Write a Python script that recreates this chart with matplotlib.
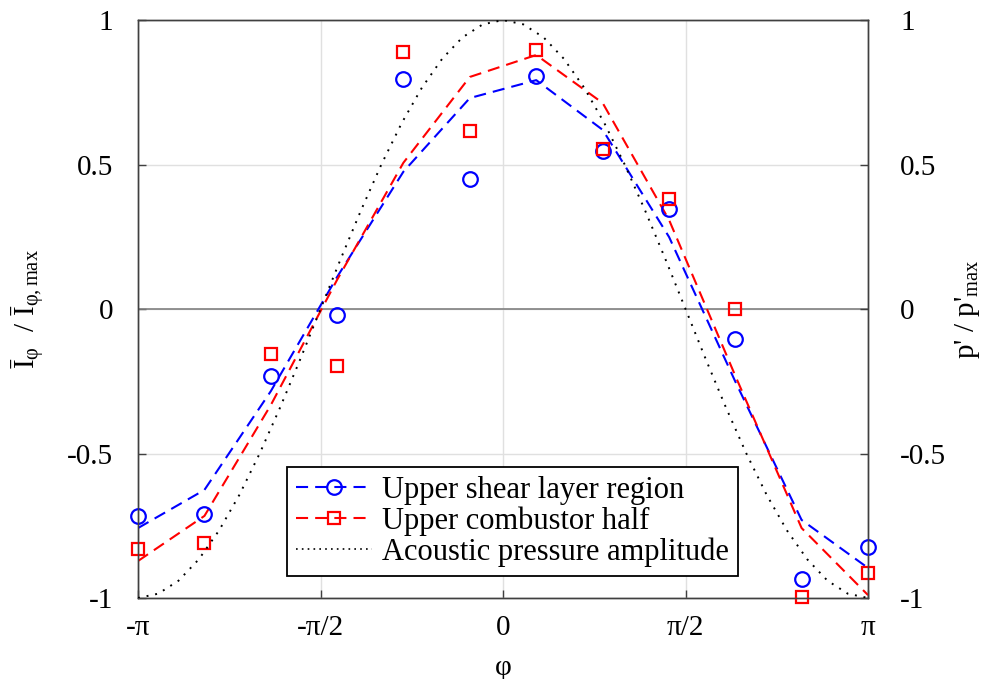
import matplotlib
matplotlib.use("Agg")
import matplotlib.pyplot as plt
import numpy as np

# phase positions of the 12 measurement points (in units of pi)
phase_pi = [-1.0, -0.818, -0.636, -0.455, -0.273, -0.091,
            0.091, 0.273, 0.455, 0.636, 0.818, 1.0]

shear_pts = [-0.716, -0.709, -0.232, -0.021, 0.796, 0.450,
             0.806, 0.547, 0.346, -0.104, -0.934, -0.824]
shear_fit = [-0.758, -0.626, -0.284, 0.11, 0.475, 0.730,
             0.792, 0.62, 0.249, -0.25, -0.730, -0.896]

comb_pts = [-0.830, -0.810, -0.156, -0.197, 0.889, 0.616,
            0.896, 0.554, 0.381, 0.0, -0.997, -0.913]
comb_fit = [-0.872, -0.716, -0.332, 0.10, 0.506, 0.803,
            0.879, 0.713, 0.308, -0.23, -0.758, -0.99]

# acoustic pressure amplitude, read every 10 degrees from -180 to 180
acoustic_deg = list(range(-180, 181, 10))
acoustic_amp = [-1.0, -0.985, -0.940, -0.866, -0.766, -0.643, -0.5, -0.342, -0.174,
                0.0, 0.174, 0.342, 0.5, 0.643, 0.766, 0.866, 0.940, 0.985,
                1.0,
                0.985, 0.940, 0.866, 0.766, 0.643, 0.5, 0.342, 0.174, 0.0,
                -0.174, -0.342, -0.5, -0.643, -0.766, -0.866, -0.940, -0.985, -1.0]

x_ticklabels = ["-π", "-π/2", "0", "π/2", "π"]
y_ticks = [-1, -0.5, 0, 0.5, 1]
y_ticklabels = ["-1", "-0.5", "0", "0.5", "1"]

plt.rcParams["font.family"] = ["Liberation Serif", "DejaVu Serif"]
plt.rcParams["mathtext.fontset"] = "custom"
plt.rcParams["mathtext.rm"] = "Liberation Serif"
plt.rcParams["mathtext.it"] = "Liberation Serif"
plt.rcParams["axes.unicode_minus"] = False

FS = 21
FS_LEG = 22

fig = plt.figure(figsize=(9.9, 6.79), dpi=100)
ax = fig.add_axes([0.1394, 0.1193, 0.7374, 0.8512])
ax2 = ax.twinx()

x = np.array(phase_pi) * np.pi
xa = np.deg2rad(acoustic_deg)

ax.axhline(0, color="#808080", lw=1.2, zorder=1)
dash = (0, (5.8, 3.4))
ax.plot(x, shear_fit, color="blue", lw=1.5, ls=dash, zorder=3)
ax.plot(x, comb_fit, color="red", lw=1.5, ls=dash, zorder=3)
ax.plot(x, shear_pts, ls="none", marker="o", ms=10.5, mfc="none",
        mec="blue", mew=1.6, zorder=4, clip_on=False)
ax.plot(x, comb_pts, ls="none", marker="s", ms=8.5, mfc="none",
        mec="red", mew=1.6, zorder=4, clip_on=False)
ax2.plot(xa, acoustic_amp, color="black", lw=1.4, ls=(0, (1, 3.5)), zorder=3)

ax.set_xlim(-np.pi, np.pi)
ax.set_ylim(-1, 1)
ax2.set_ylim(-1, 1)
ax.set_xticks([-np.pi, -np.pi / 2, 0, np.pi / 2, np.pi])
ax.set_xticklabels(x_ticklabels, fontsize=FS)
ax.set_yticks(y_ticks)
ax.set_yticklabels(y_ticklabels, fontsize=FS)
ax2.set_yticks(y_ticks)
ax2.set_yticklabels(y_ticklabels, fontsize=FS)

ax.grid(True, color="#e0e0e0", lw=1.0)
ax.set_axisbelow(True)
for a in (ax, ax2):
    a.tick_params(direction="in", length=6, width=1.0, color="#404040")
    for s in a.spines.values():
        s.set_color("#404040")
        s.set_linewidth(1.0)
ax.tick_params(axis="x", pad=12)
ax.tick_params(axis="y", pad=18)
ax2.tick_params(axis="y", pad=23)

ax.set_xlabel("φ", fontsize=FS, labelpad=10)
ax.set_ylabel(r"$\mathrm{Ī_{φ}\ \ /\ Ī_{φ,max}}$", fontsize=FS, labelpad=14)
ax2.set_ylabel(r"p' / p'$_{\mathrm{max}}$", fontsize=FS, labelpad=5)

# legend handles mimic line + marker
h1, = ax.plot([], [], color="blue", lw=1.5, ls=dash, marker="o", ms=10.5,
              mfc="none", mec="blue", mew=1.6)
h2, = ax.plot([], [], color="red", lw=1.5, ls=dash, marker="s", ms=8.5,
              mfc="none", mec="red", mew=1.6)
h3, = ax.plot([], [], color="black", lw=1.2, ls=(0, (1, 2.5)))
leg = ax2.legend([h1, h2, h3],
                 ["Upper shear layer region", "Upper combustor half",
                  "Acoustic pressure amplitude"],
                 loc="lower left", bbox_to_anchor=(0.204, 0.038),
                 borderaxespad=0, fontsize=FS_LEG, fancybox=False,
                 framealpha=1, edgecolor="black", handlelength=2.5,
                 labelspacing=0.05, borderpad=0.3, handletextpad=0.3)
leg.get_frame().set_linewidth(1.3)

fig.savefig("out.png", dpi=100)
